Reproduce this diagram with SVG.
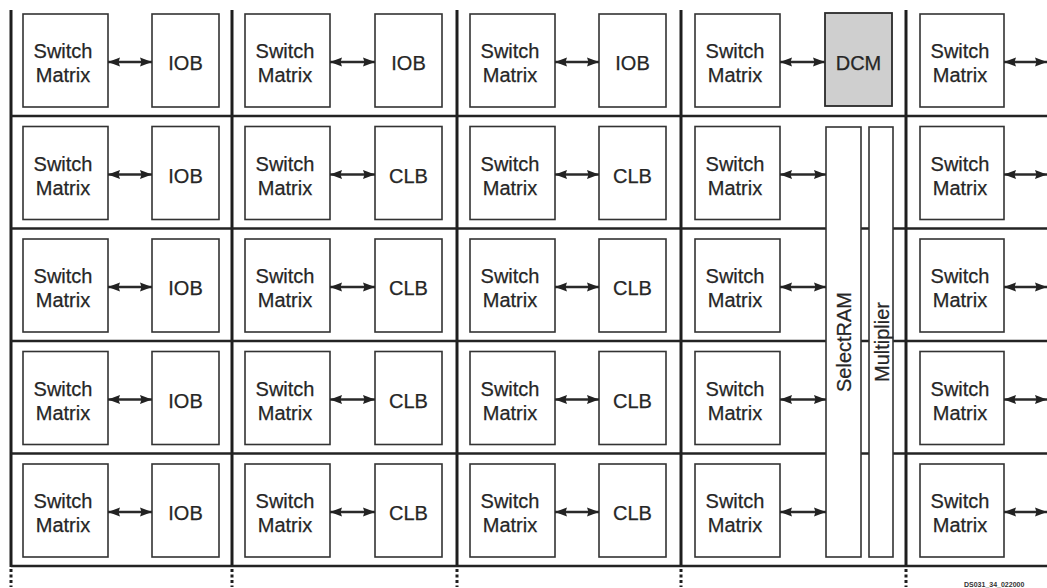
<svg xmlns="http://www.w3.org/2000/svg" width="1047" height="588" viewBox="0 0 1047 588">
  <style>
    .grid { stroke: #1e1e1e; stroke-width: 3; fill: none; }
    .hgrid { stroke: #232323; stroke-width: 2.6; fill: none; }
    .tick { stroke: #1e1e1e; stroke-width: 3; stroke-dasharray: 3 2.5; fill: none; }
    .box { fill: #ffffff; stroke: #333333; stroke-width: 1.6; }
    .dcm { fill: #cfcfcf; stroke: #2a2a2a; stroke-width: 1.8; }
    .lbl { font-family: "Liberation Sans", Arial, sans-serif; font-size: 20px; fill: #262626; stroke: #262626; stroke-width: 0.25; text-anchor: middle; }
    .link { stroke: #2a2a2a; stroke-width: 2.4; fill: none; marker-start: url(#head); marker-end: url(#head); }
    .tag { font-family: "Liberation Sans", Arial, sans-serif; font-size: 7px; font-weight: bold; fill: #333333; }
  </style>
  <defs>
    <marker id="head" viewBox="0 0 12 10" refX="12" refY="5" markerWidth="12" markerHeight="10" markerUnits="userSpaceOnUse" orient="auto-start-reverse">
      <path d="M0,0.5 L12,5 L0,9.5 L1.5,5 Z" fill="#222222"/>
    </marker>
    <g id="sm-label">
      <text class="lbl" x="0" y="44">Switch</text>
      <text class="lbl" x="0" y="68">Matrix</text>
    </g>
  </defs>

  <!-- routing channels -->
  <g id="grid">
    <line class="grid" x1="11" y1="10" x2="11" y2="567"/>
    <line class="grid" x1="232" y1="10" x2="232" y2="567"/>
    <line class="grid" x1="457" y1="10" x2="457" y2="567"/>
    <line class="grid" x1="681" y1="10" x2="681" y2="567"/>
    <line class="grid" x1="906" y1="10" x2="906" y2="567"/>
    <line class="hgrid" x1="11" y1="116" x2="1047" y2="116"/>
    <line class="hgrid" x1="11" y1="228.5" x2="1047" y2="228.5"/>
    <line class="hgrid" x1="11" y1="341" x2="1047" y2="341"/>
    <line class="hgrid" x1="11" y1="453.5" x2="1047" y2="453.5"/>
    <line class="hgrid" x1="11" y1="566" x2="1047" y2="566"/>
    <line class="tick" x1="11" y1="569" x2="11" y2="587"/>
    <line class="tick" x1="232" y1="569" x2="232" y2="587"/>
    <line class="tick" x1="457" y1="569" x2="457" y2="587"/>
    <line class="tick" x1="681" y1="569" x2="681" y2="587"/>
    <line class="tick" x1="906" y1="569" x2="906" y2="587"/>
  </g>

  <!-- column 1: switch matrices + IOBs -->
  <g id="sm-1-1"><rect class="box" x="23" y="14" width="85" height="93"/><use href="#sm-label" x="63" y="14"/></g>
  <g id="iob-1-1"><rect class="box" x="152" y="14" width="67" height="93"/><text class="lbl" x="185.5" y="70">IOB</text></g>
  <g id="sm-2-1"><rect class="box" x="23" y="126.5" width="85" height="93"/><use href="#sm-label" x="63" y="126.5"/></g>
  <g id="iob-2-1"><rect class="box" x="152" y="126.5" width="67" height="93"/><text class="lbl" x="185.5" y="182.5">IOB</text></g>
  <g id="sm-3-1"><rect class="box" x="23" y="239" width="85" height="93"/><use href="#sm-label" x="63" y="239"/></g>
  <g id="iob-3-1"><rect class="box" x="152" y="239" width="67" height="93"/><text class="lbl" x="185.5" y="295">IOB</text></g>
  <g id="sm-4-1"><rect class="box" x="23" y="351.5" width="85" height="93"/><use href="#sm-label" x="63" y="351.5"/></g>
  <g id="iob-4-1"><rect class="box" x="152" y="351.5" width="67" height="93"/><text class="lbl" x="185.5" y="407.5">IOB</text></g>
  <g id="sm-5-1"><rect class="box" x="23" y="464" width="85" height="93"/><use href="#sm-label" x="63" y="464"/></g>
  <g id="iob-5-1"><rect class="box" x="152" y="464" width="67" height="93"/><text class="lbl" x="185.5" y="520">IOB</text></g>

  <!-- column 2 -->
  <g id="sm-1-2"><rect class="box" x="245" y="14" width="85" height="93"/><use href="#sm-label" x="285" y="14"/></g>
  <g id="iob-1-2"><rect class="box" x="375" y="14" width="67" height="93"/><text class="lbl" x="408.5" y="70">IOB</text></g>
  <g id="sm-2-2"><rect class="box" x="245" y="126.5" width="85" height="93"/><use href="#sm-label" x="285" y="126.5"/></g>
  <g id="clb-2-2"><rect class="box" x="375" y="126.5" width="67" height="93"/><text class="lbl" x="408.5" y="182.5">CLB</text></g>
  <g id="sm-3-2"><rect class="box" x="245" y="239" width="85" height="93"/><use href="#sm-label" x="285" y="239"/></g>
  <g id="clb-3-2"><rect class="box" x="375" y="239" width="67" height="93"/><text class="lbl" x="408.5" y="295">CLB</text></g>
  <g id="sm-4-2"><rect class="box" x="245" y="351.5" width="85" height="93"/><use href="#sm-label" x="285" y="351.5"/></g>
  <g id="clb-4-2"><rect class="box" x="375" y="351.5" width="67" height="93"/><text class="lbl" x="408.5" y="407.5">CLB</text></g>
  <g id="sm-5-2"><rect class="box" x="245" y="464" width="85" height="93"/><use href="#sm-label" x="285" y="464"/></g>
  <g id="clb-5-2"><rect class="box" x="375" y="464" width="67" height="93"/><text class="lbl" x="408.5" y="520">CLB</text></g>

  <!-- column 3 -->
  <g id="sm-1-3"><rect class="box" x="470" y="14" width="85" height="93"/><use href="#sm-label" x="510" y="14"/></g>
  <g id="iob-1-3"><rect class="box" x="599" y="14" width="67" height="93"/><text class="lbl" x="632.5" y="70">IOB</text></g>
  <g id="sm-2-3"><rect class="box" x="470" y="126.5" width="85" height="93"/><use href="#sm-label" x="510" y="126.5"/></g>
  <g id="clb-2-3"><rect class="box" x="599" y="126.5" width="67" height="93"/><text class="lbl" x="632.5" y="182.5">CLB</text></g>
  <g id="sm-3-3"><rect class="box" x="470" y="239" width="85" height="93"/><use href="#sm-label" x="510" y="239"/></g>
  <g id="clb-3-3"><rect class="box" x="599" y="239" width="67" height="93"/><text class="lbl" x="632.5" y="295">CLB</text></g>
  <g id="sm-4-3"><rect class="box" x="470" y="351.5" width="85" height="93"/><use href="#sm-label" x="510" y="351.5"/></g>
  <g id="clb-4-3"><rect class="box" x="599" y="351.5" width="67" height="93"/><text class="lbl" x="632.5" y="407.5">CLB</text></g>
  <g id="sm-5-3"><rect class="box" x="470" y="464" width="85" height="93"/><use href="#sm-label" x="510" y="464"/></g>
  <g id="clb-5-3"><rect class="box" x="599" y="464" width="67" height="93"/><text class="lbl" x="632.5" y="520">CLB</text></g>

  <!-- column 4: DCM, block RAM and multiplier -->
  <g id="sm-1-4"><rect class="box" x="695" y="14" width="85" height="93"/><use href="#sm-label" x="735" y="14"/></g>
  <g id="dcm"><rect class="dcm" x="825" y="13" width="67" height="93"/><text class="lbl" x="858.5" y="70">DCM</text></g>
  <g id="sm-2-4"><rect class="box" x="695" y="126.5" width="85" height="93"/><use href="#sm-label" x="735" y="126.5"/></g>
  <g id="sm-3-4"><rect class="box" x="695" y="239" width="85" height="93"/><use href="#sm-label" x="735" y="239"/></g>
  <g id="sm-4-4"><rect class="box" x="695" y="351.5" width="85" height="93"/><use href="#sm-label" x="735" y="351.5"/></g>
  <g id="sm-5-4"><rect class="box" x="695" y="464" width="85" height="93"/><use href="#sm-label" x="735" y="464"/></g>
  <g id="selectram"><rect class="box" x="826" y="127" width="35" height="430"/><text class="lbl" transform="translate(850.5,342) rotate(-90)" x="0" y="0">SelectRAM</text></g>
  <g id="multiplier"><rect class="box" x="869" y="127" width="24" height="430"/><text class="lbl" transform="translate(888.5,342) rotate(-90)" x="0" y="0">Multiplier</text></g>

  <!-- column 5 -->
  <g id="sm-1-5"><rect class="box" x="920" y="14" width="84" height="93"/><use href="#sm-label" x="960" y="14"/></g>
  <g id="sm-2-5"><rect class="box" x="920" y="126.5" width="84" height="93"/><use href="#sm-label" x="960" y="126.5"/></g>
  <g id="sm-3-5"><rect class="box" x="920" y="239" width="84" height="93"/><use href="#sm-label" x="960" y="239"/></g>
  <g id="sm-4-5"><rect class="box" x="920" y="351.5" width="84" height="93"/><use href="#sm-label" x="960" y="351.5"/></g>
  <g id="sm-5-5"><rect class="box" x="920" y="464" width="84" height="93"/><use href="#sm-label" x="960" y="464"/></g>

  <!-- bidirectional links -->
  <g id="connectors">
    <line class="link" x1="108" y1="62" x2="152" y2="62"/>
    <line class="link" x1="108" y1="174.5" x2="152" y2="174.5"/>
    <line class="link" x1="108" y1="287" x2="152" y2="287"/>
    <line class="link" x1="108" y1="399.5" x2="152" y2="399.5"/>
    <line class="link" x1="108" y1="512" x2="152" y2="512"/>

    <line class="link" x1="330" y1="62" x2="375" y2="62"/>
    <line class="link" x1="330" y1="174.5" x2="375" y2="174.5"/>
    <line class="link" x1="330" y1="287" x2="375" y2="287"/>
    <line class="link" x1="330" y1="399.5" x2="375" y2="399.5"/>
    <line class="link" x1="330" y1="512" x2="375" y2="512"/>

    <line class="link" x1="555" y1="62" x2="599" y2="62"/>
    <line class="link" x1="555" y1="174.5" x2="599" y2="174.5"/>
    <line class="link" x1="555" y1="287" x2="599" y2="287"/>
    <line class="link" x1="555" y1="399.5" x2="599" y2="399.5"/>
    <line class="link" x1="555" y1="512" x2="599" y2="512"/>

    <line class="link" x1="780" y1="62" x2="825" y2="62"/>
    <line class="link" x1="780" y1="174.5" x2="826" y2="174.5"/>
    <line class="link" x1="780" y1="287" x2="826" y2="287"/>
    <line class="link" x1="780" y1="399.5" x2="826" y2="399.5"/>
    <line class="link" x1="780" y1="512" x2="826" y2="512"/>

    <line class="link" x1="1004" y1="62" x2="1047" y2="62"/>
    <line class="link" x1="1004" y1="174.5" x2="1047" y2="174.5"/>
    <line class="link" x1="1004" y1="287" x2="1047" y2="287"/>
    <line class="link" x1="1004" y1="399.5" x2="1047" y2="399.5"/>
    <line class="link" x1="1004" y1="512" x2="1047" y2="512"/>
  </g>

  <text class="tag" x="964" y="587">DS031_34_022000</text>
</svg>
